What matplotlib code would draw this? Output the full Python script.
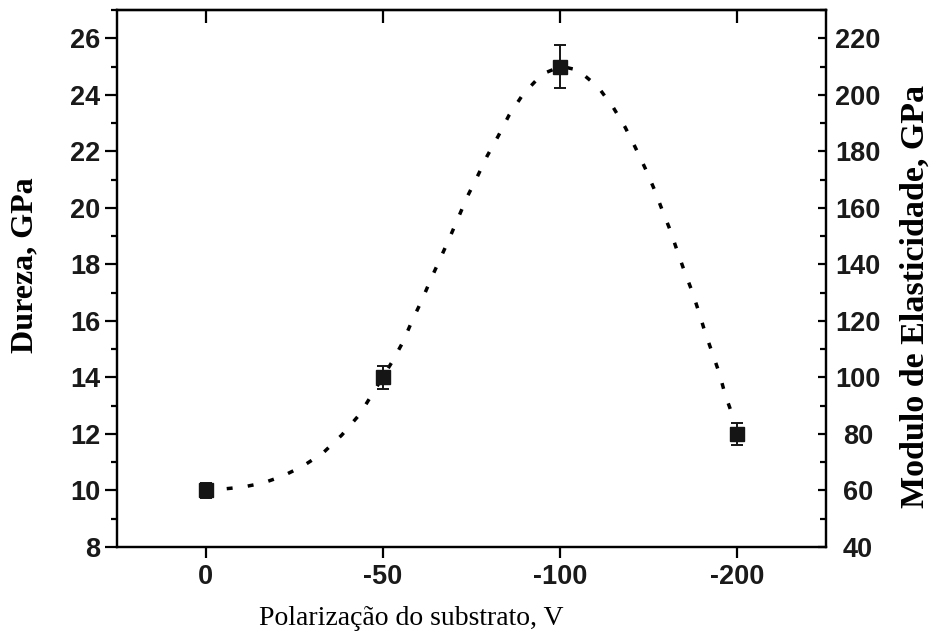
import matplotlib
matplotlib.use("Agg")
import matplotlib.pyplot as plt
from matplotlib.ticker import MultipleLocator

# ---- data ----
categories = ["0", "-50", "-100", "-200"]
dureza = [10, 14, 25, 12]
dureza_err = [0.25, 0.4, 0.75, 0.4]

# dotted guide curve (position in category units, Dureza value)
curve_pos = [0.0, 0.096, 0.209, 0.322, 0.435, 0.548, 0.661, 0.768, 0.870, 0.944,
             1.051, 1.113, 1.164, 1.220, 1.271, 1.322, 1.373, 1.424, 1.475, 1.531,
             1.588, 1.650, 1.712, 1.791, 1.898, 2.006, 2.102, 2.215, 2.299, 2.367,
             2.424, 2.480, 2.531, 2.576, 2.621, 2.661, 2.701, 2.746, 2.785, 2.819,
             2.859, 2.898, 2.932, 2.972]
curve_val = [10.0, 10.05, 10.12, 10.26, 10.51, 10.86, 11.32, 11.96, 12.70, 13.45,
             14.54, 15.25, 15.99, 16.73, 17.48, 18.18, 18.89, 19.63, 20.38, 21.08,
             21.83, 22.53, 23.28, 24.02, 24.73, 25.01, 24.87, 24.27, 23.56, 22.85,
             22.14, 21.40, 20.66, 19.92, 19.21, 18.47, 17.76, 17.02, 16.27, 15.57,
             14.86, 14.15, 13.37, 12.67]

left_ticks = [8, 10, 12, 14, 16, 18, 20, 22, 24, 26]
right_ticks = [40, 60, 80, 100, 120, 140, 160, 180, 200, 220]

xlabel = "Polarização do substrato, V"
ylabel_left = "Dureza, GPa"
ylabel_right = "Modulo de Elasticidade, GPa"

# ---- figure ----
fig = plt.figure(figsize=(9.41, 6.44), dpi=100)
ax = fig.add_axes([117 / 941, 1 - 547 / 644, (826 - 117) / 941, (547 - 10) / 644])

pos = list(range(len(categories)))

ax.plot(curve_pos, curve_val, color="black", lw=2.5,
        linestyle=(0, (1.7, 4.4)), dash_capstyle="butt", zorder=2)
ax.errorbar(pos, dureza, yerr=dureza_err, fmt="s", color="#151515",
            ms=10.5, ecolor="#151515", elinewidth=1.4, capsize=4, capthick=1.4,
            zorder=3)

ax.set_xlim(-0.5, 3.5)
ax.set_ylim(8, 27)
ax.set_xticks(pos)
ax.set_xticklabels(categories)
ax.set_yticks(left_ticks)
ax.yaxis.set_minor_locator(MultipleLocator(1))

tick_font = dict(family="Liberation Sans", weight="bold", size=19.5)
for lab in ax.get_xticklabels() + ax.get_yticklabels():
    lab.set_fontproperties(matplotlib.font_manager.FontProperties(**tick_font))
    lab.set_color("#1a1a1a")

ax.tick_params(axis="y", which="major", direction="out", length=9, width=1.6, pad=3)
ax.tick_params(axis="y", which="minor", direction="out", length=4.5, width=1.6)
ax.tick_params(axis="x", which="major", direction="out", length=8, width=1.6, pad=4)

for s in ax.spines.values():
    s.set_linewidth(1.6)

# top ticks (inward, no labels)
top = ax.secondary_xaxis("top")
top.set_xticks(pos)
top.tick_params(direction="in", length=9, width=1.6, labeltop=False)
top.spines["top"].set_linewidth(1.6)

# right axis
ax2 = ax.twinx()
ax2.set_ylim(40, 230)
ax2.set_yticks(right_ticks)
ax2.yaxis.set_minor_locator(MultipleLocator(10))
ax2.tick_params(axis="y", which="major", direction="in", length=6, width=1.6, pad=23)
ax2.tick_params(axis="y", which="minor", direction="in", length=4, width=1.6)
for lab in ax2.get_yticklabels():
    lab.set_fontproperties(matplotlib.font_manager.FontProperties(**tick_font))
    lab.set_color("#1a1a1a")
    lab.set_horizontalalignment("center")
for s in ax2.spines.values():
    s.set_linewidth(1.6)

# axis labels
ax.set_xlabel(xlabel, family="Liberation Serif", size=20)
ax.xaxis.set_label_coords((411 - 117) / 709, (547 - 606) / 537)
ax.xaxis.label.set_va("top")

ax.set_ylabel(ylabel_left, family="Liberation Serif", weight="bold", size=23)
ax.yaxis.set_label_coords((25 - 117) / 709, (547 - 265) / 537)
ax.yaxis.label.set_va("center")
ax.yaxis.label.set_ha("center")

ax2.set_ylabel(ylabel_right, family="Liberation Serif", weight="bold", size=24.5)
ax2.yaxis.set_label_coords((915 - 117) / 709, (547 - 296) / 537)
ax2.yaxis.label.set_va("center")
ax2.yaxis.label.set_ha("center")
ax2.yaxis.label.set_rotation(90)

fig.savefig("out.png", dpi=100)
